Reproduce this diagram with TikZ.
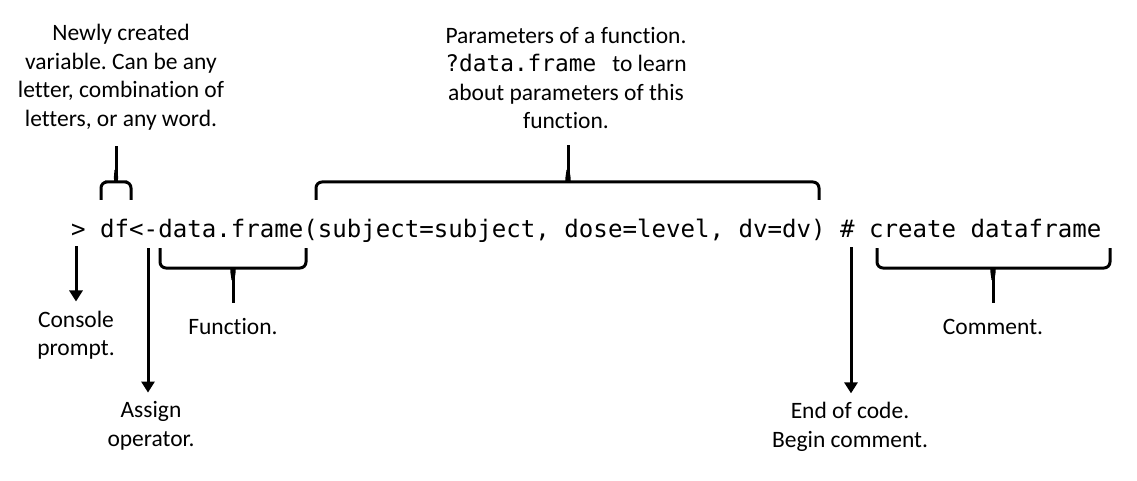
\documentclass[tikz,border=0pt]{standalone}
\usepackage{fontspec}
\setmainfont{Carlito}[Ligatures={NoCommon}]
\newfontfamily\codefont{DejaVu Sans Mono}
\usetikzlibrary{arrows.meta}
\frenchspacing

\tikzset{
  codeline/.style = {font=\codefont\fontsize{24.1}{28}\selectfont, inner sep=0pt},
  note/.style = {font=\fontsize{23.5}{28.5}\selectfont, align=center, inner sep=0pt},
  pointer/.style = {line width=3pt, -{Triangle[width=13pt,length=11pt]}, shorten >=9pt},
  stem/.style = {line width=3pt, shorten >=16pt},
  bracket/.style = {line width=3pt, rounded corners=6pt},
}

\begin{document}
\begin{tikzpicture}[x=1pt, y=-1pt]
\useasboundingbox (0,0) rectangle (1137,481);

% the line of code
\node[codeline, anchor=base west] (code) at (71,237)
  {> df<-data.frame(subject=subject, dose=level, dv=dv) \# create dataframe};

% notes
\node[note] (varlbl) at (121,77) {Newly created\\variable. Can be any\\letter, combination of\\letters, or any word.};
\node[note] (paramlbl) at (566,78) {Parameters of a function.\\{\codefont\fontsize{22.8}{28}\selectfont ?data.frame}\hspace{16pt}to learn\\about parameters of this\\function.};
\node[note] (promptlbl) at (76,335) {Console\\prompt.};
\node[note] (assignlbl) at (151,426) {Assign\\operator.};
\node[note] (funclbl) at (233,327) {Function.};
\node[note] (endlbl) at (850,427) {End of code.\\Begin comment.};
\node[note] (commentlbl) at (993,327) {Comment.};

% points on the code line
\coordinate (prompt) at (76,246);
\coordinate (assign) at (148,248);
\coordinate (hash) at (851,247);
\coordinate (vartip) at (116,176);
\coordinate (paramtip) at (568,176);
\coordinate (functip) at (233,274);
\coordinate (commenttip) at (993,274);

% braces
\draw[bracket] (101,200) -- (101,182) -- (111,182) to[out=0,in=90] (vartip) to[out=90,in=180] (121,182) -- (131,182) -- (131,200);
\draw[bracket] (316,200) -- (316,182) -- (562,182) to[out=0,in=90] (paramtip) to[out=90,in=180] (574,182) -- (819,182) -- (819,200);
\draw[bracket] (160,248) -- (160,268) -- (227,268) to[out=0,in=-90] (functip) to[out=-90,in=180] (239,268) -- (306,268) -- (306,248);
\draw[bracket] (877,248) -- (877,268) -- (987,268) to[out=0,in=-90] (commenttip) to[out=-90,in=180] (999,268) -- (1110,268) -- (1110,248);

% stems and arrows
\draw[stem] (vartip) -- (vartip |- varlbl.south);
\draw[stem] (paramtip) -- (paramtip |- paramlbl.south);
\draw[stem] (functip) -- (functip |- funclbl.north);
\draw[stem] (commenttip) -- (commenttip |- commentlbl.north);
\draw[pointer] (prompt) -- (prompt |- promptlbl.north);
\draw[pointer] (assign) -- (assign |- assignlbl.north);
\draw[pointer] (hash) -- (hash |- endlbl.north);
\end{tikzpicture}
\end{document}
